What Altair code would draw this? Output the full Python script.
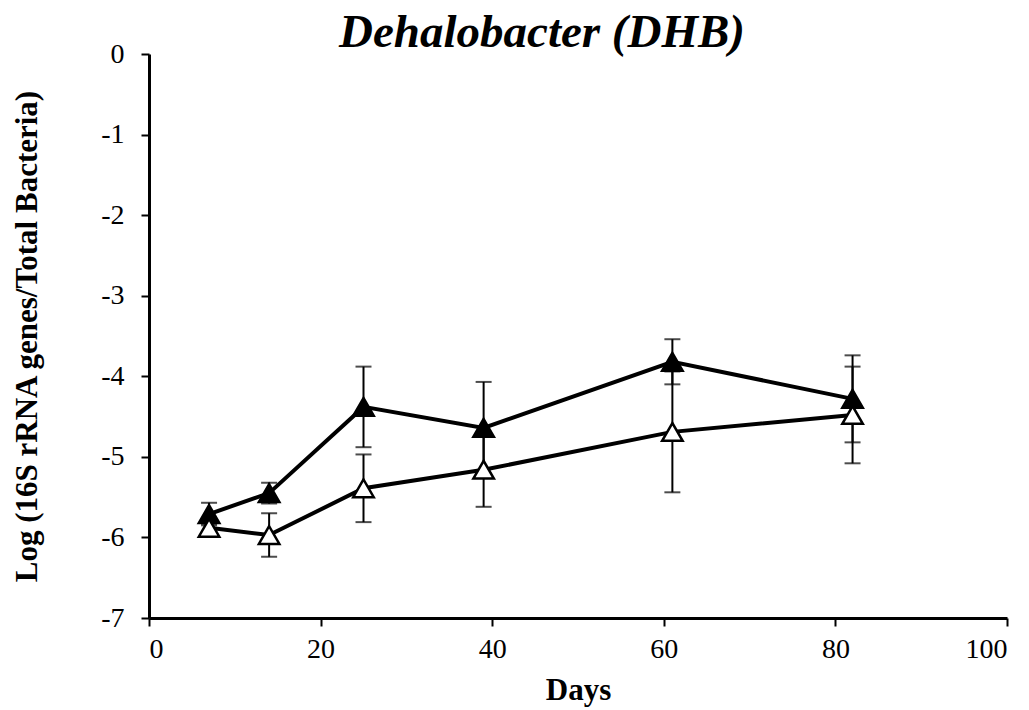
import altair as alt
import pandas as pd

days = [7, 14, 25, 39, 61, 82]
filled_vals = [-5.71, -5.45, -4.38, -4.64, -3.82, -4.28]
filled_err = [0.14, 0.13, 0.50, 0.57, 0.28, 0.54]
open_vals = [-5.88, -5.97, -5.39, -5.16, -4.69, -4.48]
open_err = [0.05, 0.27, 0.42, 0.46, 0.75, 0.60]

rows = []
for d, v, e in zip(days, filled_vals, filled_err):
    rows.append({"day": d, "val": v, "lo": v - e, "hi": v + e, "series": "filled"})
for d, v, e in zip(days, open_vals, open_err):
    rows.append({"day": d, "val": v, "lo": v - e, "hi": v + e, "series": "open"})
df = pd.DataFrame(rows)

FONT = "Liberation Serif"

x = alt.X("day:Q", scale=alt.Scale(domain=[0, 100], nice=False),
          axis=alt.Axis(title="Days", values=[0, 20, 40, 60, 80, 100],
                        labelExpr="'' + datum.value",
                        titleX=429, titleY=72, titleBaseline="middle",
                        labelPadding=9))
y = alt.Y("val:Q", scale=alt.Scale(domain=[-7, 0], nice=False),
          axis=alt.Axis(title="Log (16S rRNA genes/Total Bacteria)",
                        values=[-7, -6, -5, -4, -3, -2, -1, 0],
                        labelExpr="'' + datum.value",
                        titleX=-122, titleY=282, titleBaseline="middle",
                        labelPadding=17))

base = alt.Chart(df)

err_rule = base.mark_rule(color="black", strokeWidth=2).encode(
    x=x, y=alt.Y("lo:Q", scale=alt.Scale(domain=[-7, 0], nice=False)), y2="hi:Q",
    detail="series:N")
cap_lo = base.mark_tick(orient="horizontal", color="black", size=16, thickness=2).encode(
    x=x, y=alt.Y("lo:Q"))
cap_hi = base.mark_tick(orient="horizontal", color="black", size=16, thickness=2).encode(
    x=x, y=alt.Y("hi:Q"))

line = base.mark_line(color="black", strokeWidth=4).encode(
    x=x, y=y, detail="series:N")

pts = base.mark_point(shape="triangle-up", size=420, strokeWidth=2.5, opacity=1).encode(
    x=x, y=y,
    fill=alt.Fill("series:N", scale=alt.Scale(domain=["filled", "open"], range=["black", "white"]), legend=None),
    stroke=alt.value("black"))

chart = alt.layer(err_rule, cap_lo, cap_hi, line, pts).properties(
    width=858, height=564,
    autosize=alt.AutoSizeParams(type="none"),
    padding={"left": 149, "top": 54, "right": 22, "bottom": 92},
    title=alt.TitleParams("Dehalobacter (DHB)", font=FONT, fontSize=47, fontStyle="italic",
                          fontWeight="bold", color="black", anchor="middle", dx=-36, offset=-17),
).configure_view(stroke=None).configure_axis(
    domainColor="black", domainWidth=3, tickColor="black", tickWidth=2, tickSize=8,
    grid=False, labelFont=FONT, labelFontSize=28, labelColor="black",
    titleFont=FONT, titleFontSize=31, titleFontWeight="bold", titleColor="black",
)

chart.save("out.html", embed_options={"renderer": "svg", "actions": False})
